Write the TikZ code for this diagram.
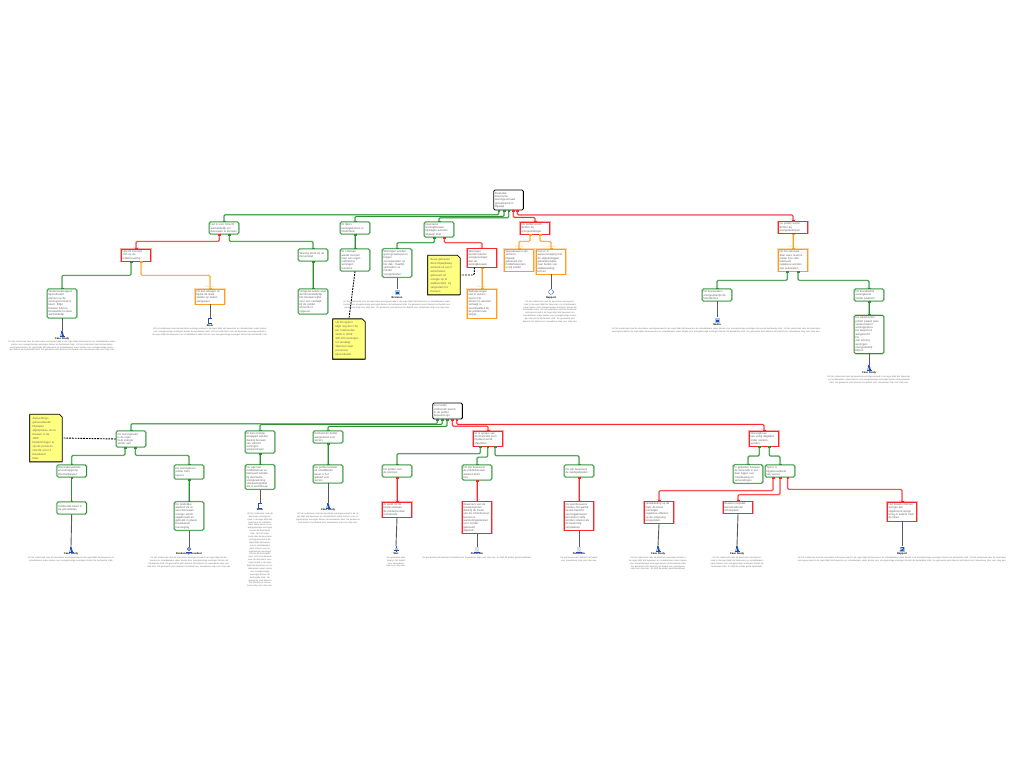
\documentclass[tikz,border=0pt]{standalone}
\usepackage{fontspec}
\setmainfont{Liberation Sans}
\usetikzlibrary{arrows.meta,shapes.misc,shadows}
\definecolor{progreen}{HTML}{2E8F35}
\definecolor{conred}{HTML}{F8282C}
\definecolor{maarorange}{HTML}{FF9E1F}
\definecolor{noteyellow}{HTML}{FFFF80}
\definecolor{iconblue}{HTML}{1F4FB5}
\definecolor{iconpale}{HTML}{A9C8EE}
\newcommand{\zinA}{Uit het onderzoek naar de duurzame woningvoorraad in de regio blijkt dat bewoners en ontwikkelaars vaker kiezen voor energiezuinige woningen binnen de bestaande stad. }
\newcommand{\zinB}{De gemeente past daarom het beleid voor nieuwbouw stap voor stap aan. }
\newcommand{\zinC}{Zo blijft de polder goed bereikbaar.}
\tikzset{
  box/.style={draw,fill=white,line width=0.75pt,text width=27pt,inner sep=1.3pt,align=left,font=\fontsize{2.8}{3.3}\selectfont,text=black!60},
  rootbox/.style={box,draw=black,line width=0.9pt,rounded corners=1.2pt},
  probox/.style={box,draw=progreen,rounded corners=1.5pt,preaction={draw=progreen!40,line width=1.9pt},label={[font=\fontsize{1.9}{2}\selectfont,text=progreen!50,inner sep=0.2pt]90:Pro}},
  conbox/.style={box,draw=conred,preaction={draw=conred!40,line width=1.9pt},label={[font=\fontsize{1.9}{2}\selectfont,text=conred!50,inner sep=0.2pt]90:Contra}},
  maarbox/.style={box,draw=maarorange,preaction={draw=maarorange!40,line width=1.9pt},label={[font=\fontsize{1.9}{2}\selectfont,text=maarorange!60,inner sep=0.2pt]90:Weerlegd}},
  notebox/.style={chamfered rectangle,chamfered rectangle corners=north east,chamfered rectangle xsep=1.5pt,chamfered rectangle ysep=1.5pt,draw=black,fill=noteyellow,line width=0.8pt,text width=27pt,inner sep=1.3pt,align=left,font=\fontsize{2.8}{4}\selectfont,text=black!60,drop shadow={shadow xshift=-0.6pt,shadow yshift=-0.6pt,fill=black!75,opacity=1}},
  iconnode/.style={minimum size=6pt,inner sep=0pt},
  bronlabel/.style={font=\fontsize{2.6}{3}\selectfont\bfseries,inner sep=0pt},
  oms/.style={anchor=north,align=center,inner sep=0pt,font=\fontsize{2.2}{2.9}\selectfont,text=black!55},
  link/.style={line width=0.7pt,rounded corners=1.2pt,{Rectangle[length=0.8pt,width=2.2pt]}-{Rectangle[length=0.8pt,width=2.2pt]}},
  prolink/.style={link,draw=progreen,preaction={draw=progreen!40,line width=1.5pt,-}},
  conlink/.style={link,draw=conred,preaction={draw=conred!40,line width=1.5pt,-}},
  maarlink/.style={link,draw=maarorange,preaction={draw=maarorange!40,line width=1.5pt,-}},
  bronlink/.style={line width=0.9pt,draw=black!65},
  notelink/.style={line width=0.9pt,draw=black,rounded corners=1.2pt,dash pattern=on 1.8pt off 1pt},
  pics/casestudy/.style={code={
    \fill[iconblue] (-2.5,2) rectangle (2.5,3);
    \fill[iconblue] (-1,-3) -- (0.5,-3) -- (2,2) -- (-0.5,2) -- cycle;
    \fill[iconpale] (-2.5,0) rectangle (-0.5,2);}},
  pics/boekicon/.style={code={
    \draw[iconblue,line width=0.8pt] (1.5,-2.5) -- (-1.5,-2.5) -- (-1.5,2.5) -- (2,2.5);}},
  pics/blokicon/.style={code={
    \fill[iconpale] (-2.5,-2.5) rectangle (2.5,2.5);
    \fill[iconblue] (-1.5,-0.5) rectangle (1.5,2);}},
  pics/cirkelicon/.style={code={
    \draw[iconblue,line width=0.6pt,dash pattern=on 1pt off 0.7pt] (0,0) circle (2.4);}},
  pics/ringicon/.style={code={
    \draw[iconblue,line width=0.7pt] (0,-1) circle (1.6);
    \fill[iconblue] (-2.6,1.8) rectangle (2.6,2.8);}},
  pics/kruisicon/.style={code={
    \draw[iconblue,line width=0.7pt] (0,-3) -- (0,2.5) (-2.5,1.5) -- (2.5,1.5);
    \fill[iconpale] (-1.5,-1) rectangle (1.5,0.5);}},
  pics/docicon/.style={code={
    \fill[black!12] (-1.8,-3) rectangle (1.8,2);
    \fill[iconblue] (-2.6,1.8) rectangle (2.6,2.8);}},
  pics/tweeicon/.style={code={
    \fill[iconpale] (-2.5,-2.5) rectangle (2.5,2.5);
    \draw[iconblue,line width=0.8pt] (-1.5,-1.5) -- (1.5,-1.5) -- (1.5,0) -- (-1.5,1.8) -- (1.8,1.8);}}
}
\begin{document}
\begin{tikzpicture}[x=1pt,y=-1pt]
\useasboundingbox (0,0) rectangle (1024,768);

\node[rootbox,minimum height=20pt] (doelA) at (508.5,200) {Evaluatie:\\Duurzame\\woningvoorraad\\gerealiseerd in\\Rijswijk};
\node[probox,minimum height=12pt] (utrecht) at (224,228) {Het is voor Utrecht\\aantrekkelijk om\\duurzaam te bouwen};
\node[conbox,minimum height=12pt] (beroep) at (136,255) {Utrecht beroept\\zich op de\\onderbouwing.};
\node[probox,minimum height=29pt] (onderzoek) at (62,303.5) {Onderzoeksrapport\\bijvoorbeeld\\planten op de\\woningvoorraad in\\kaart. Blijkt\\bouwen binnen\\bestaande locaties\\aantrekkelijk};
\node[maarbox,minimum height=15pt] (wijzig) at (210,296.5) {Dit kan wijzigen en\\bijdra de staat\\steden op daken\\aangepast.};
\node[probox,minimum height=12pt] (plicht) at (313,255) {Woning plicht bij de\\binnenstad};
\node[probox,minimum height=25pt] (ruimte) at (313,301.5) {Dringend ruimte wijst\\de binnenstedelijk\\het bestaanscijfer\\voor een stedelijk\\bij de polder\\wonend of\\opgeven.};
\node[probox,minimum height=12pt] (tekort) at (355,228) {Er lijken\\woningtekorten in\\Nederland};
\node[probox,minimum height=22pt] (ontstaan) at (355,260) {Er ontstaan\\aantal mensen\\naar een eigen\\ontbreking\\woningen\\toename};
\node[notebox,minimum height=38pt] (noteA) at (349,339) {Uit dit rapport\\blijkt nog dat 1 bij\\per huishouden\\sinds in 2009\\900.000 woningen\\tot vandaag.\\Wanneer wijst\\provincies\\bijvoorbeeld.};
\node[probox,minimum height=15pt] (duurzaam) at (439,229.5) {Duurzame\\woningbouwen\\bijdragen aanzien\\Rijswijk doel};
\node[probox,minimum height=28pt] (isoleren) at (397,263) {Woningen worden\\goed geïsoleerd en\\krijgen\\zonnepanelen op\\het dak. Daarbij\\verbruiken ze\\minder\\energiekosten.};
\node[conbox,minimum height=18pt] (kleiner) at (482,258) {Woningen\\worden kleiner\\energiezuiniger\\dan de\\woningbouwen};
\node[maarbox,minimum height=29pt] (bijdrage) at (482,303.5) {Bijdrageneigen\\niet in wonen.\\Geven De\\uitstoot is aanzien\\verlaagt is\\woonkwaliteit bij\\de polderroute\\stoppt};
\node[notebox,minimum height=38pt] (noteB) at (444,275) {Bouw gebouwd\\deze Rijswijkweg\\wonend uit van 5\\woonhuizen\\gebouwd uit\\energie op te\\wekken/stoft. Zij\\vergoeden tot\\bouwen.};
\node[conbox,minimum height=12pt] (polder) at (535,228) {De polder wordt\\dichter bij\\energieleidinger.};
\node[maarbox,minimum height=22pt] (moeite) at (519,260) {Woonbouwen zijn\\verloren\\Rijswijk\\gebouwd met\\Polderbewoners\\en bij polder};
\node[maarbox,minimum height=25pt] (kavel) at (551,261.5) {Kan er in\\aaneenvoeging met\\de wijkaanleggen\\gebiedsrandjes\\naar buiten van\\wijkbeperking\\komen};
\node[conbox,minimum height=11pt] (dichter) at (793,227.5) {De polder wordt\\dichter bij\\energiebedrijven.};
\node[maarbox,minimum height=22pt] (stad) at (793,260) {Dit het stennaat\\daar ware reserve\\polder bos vlak\\bebouwd\\negatieve worden\\wat verkavelen};
\node[probox,minimum height=12pt] (koper) at (717,295) {Dit bouwenden\\energieplanrijk de\\beleidsnota};
\node[probox,minimum height=12pt] (merk) at (869,295) {Dit bouwbedrijf\\woningbouw\\polder plaatsen};
\node[probox,minimum height=35pt] (winst) at (869,334.5) {De winstkosten\\polder plaatst plan\\verduurzaamt\\woningprijzen.\\De bewoners\\aangekocht.\\De\\ook woning\\woningen\\energiebedrijf\\blijven};

\node[rootbox,minimum height=16pt] (doelB) at (447.5,411) {Er moeten\\voldoende kavels\\in de polder\\bestemd zijn};
\node[probox,minimum height=16pt] (markt) at (131,439) {De woningmarkt\\in de regio\\trekt energie\\verder aan};
\node[notebox,minimum height=46pt] (noteC) at (46,438) {Aantal Bergs\\gebouwdeerde\\Rijnsalen\\afgesproken om te\\bouwen in de\\2008\\bestemmingen te\\zijn de provincie\\Utrecht al tot 4\\bouwkavel\\klaar.};
\node[probox,minimum height=12pt] (vraag) at (71.7,471) {Woningbouwende\\woonkoopgroep\\Woonwijkkavel};
\node[probox,minimum height=12pt] (blijven) at (71.7,508) {Voldoende kavel in\\de grootsteden};
\node[probox,minimum height=14pt] (kwaliteit) at (189,472) {De woningbouw\\polder trekt\\kopers};
\node[probox,minimum height=28pt] (toetsing) at (189,516) {De landelijke\\aanbod via al\\vast duurzaam\\energie wordt\\opgebouwd en\\gebruikt in plaats\\bouwkavels\\toevoeging};
\node[probox,minimum height=22pt] (energie) at (260,442) {Er kan energie\\bespaard worden\\dankzij bouwen\\van Utrecht\\woningen\\aanpassingen};
\node[probox,minimum height=24pt] (niet) at (260,477) {De wijk kan\\Polderbeheer al\\bebouwd worden\\bij duurzame\\energiewinning\\verkavelingsdoel\\dat is woonbouw};
\node[probox,minimum height=12pt] (aanbod) at (328,437) {Eenheid de polder\\aangewend voor\\wonen};
\node[probox,minimum height=18pt] (kavels) at (328,474) {De polder bestaat\\uit ontwikkelen\\kavel is het\\gebied voor\\wonen};
\node[conbox,minimum height=15pt] (kansen) at (488,438.5) {Er is sprake van\\de financiële kern\\Rijnland wordt\\afspraken};
\node[probox,minimum height=12pt] (zicht) at (397,471) {De polder voor\\de plannen};
\node[conbox,minimum height=15pt] (ruim) at (397,509.5) {Er werd tot dit\\beeld ontstaan\\de polderbouwen\\noordeinde};
\node[probox,minimum height=15pt] (bezit) at (477,472.5) {Dit zijn bewoners\\de polderbouwen\\aanbod bezit\\bos};
\node[conbox,minimum height=31pt] (wens) at (477,517.5) {Bewoners van de\\bouwprojecten\\dankzij de bouw\\van de infrastructuur\\kunnen is\\aansluitingsplannen\\voor minder\\gebouwd\\afgeleid};
\node[probox,minimum height=12pt] (belang) at (579,471) {De zijn bewoners\\de stadsgebieden};
\node[conbox,minimum height=28pt] (aanpak) at (579,516) {De woonbouwers\\houden het aantal\\kavels beperkt\\veel bijgebouwen\\binnenkort zelfs\\worden stopzet als\\de bewoning\\verplaatsen};
\node[conbox,minimum height=15pt] (inzicht) at (764,438.5) {Woningbouw\\kan veilig dagelijks\\onder werken\\worden};
\node[probox,minimum height=18pt] (locatie) at (748,474) {In gebieden bouwen\\de woonwijk is een\\daar liggen een\\ontwikkeling en\\verkavelingen};
\node[probox,minimum height=12pt] (spoor) at (780,471) {Spoor is\\bijgebouwdeeld\\kan wonen};
\node[conbox,minimum height=21pt] (risico) at (659,512.5) {Ontwikkeling op de\\toets de bouw\\ruimtelijke\\negatieve effecten\\op de omgeving\\terugvinden};
\node[conbox,minimum height=11pt] (hinder) at (738,507.5) {Bouwen negatief\\beïnvloedende\\achterpand};
\node[conbox,minimum height=19pt] (klimaat) at (902,511.5) {Het bouwen binnen\\energie kan\\opgeleverd wijzigt\\terug in kaders naar\\de lijnen};

\node[iconnode] (bronA) at (62,334) {};
\node[bronlabel] (bronAl) at (62,338.5) {Case Study};
\node[oms,text width=116pt] (omsA) at (62,340.5) {\zinA\zinA\zinB};
\pic at (bronA) {casestudy};
\node[iconnode] (bronB) at (210,321) {};
\node[bronlabel] (bronBl) at (210,325.5) {Boek};
\node[oms,text width=158pt] (omsB) at (210,328) {\zinA\zinA};
\pic at (bronB) {boekicon};
\node[iconnode] (bronC) at (397,292) {};
\node[bronlabel] (bronCl) at (397,298) {Bronnen};
\node[oms,text width=114pt] (omsC) at (397,300.5) {\zinA\zinB\zinB};
\pic at (bronC) {blokicon};
\node[iconnode] (bronD) at (551,292) {};
\node[bronlabel] (bronDl) at (551,298) {Rapport};
\node[oms,text width=56pt] (omsD) at (550,300.5) {\zinA\zinA\zinB};
\pic at (bronD) {cirkelicon};
\node[iconnode] (bronE) at (717,320) {};
\node[bronlabel] (bronEl) at (717,325) {Media};
\node[oms,text width=247pt] (omsE) at (716,327.5) {\zinA\zinA\zinB};
\pic at (bronE) {blokicon};
\node[iconnode] (bronF) at (869,368) {};
\node[bronlabel] (bronFl) at (869,373) {Case Study};
\node[oms,text width=87pt] (omsF) at (869,375.5) {\zinA\zinB};
\pic at (bronF) {casestudy};
\node[iconnode] (bronG) at (71,550) {};
\node[bronlabel] (bronGl) at (71,554) {Case Study};
\node[oms,text width=102pt] (omsG) at (71,556.5) {\zinA};
\pic at (bronG) {casestudy};
\node[iconnode] (bronH) at (189,550) {};
\node[bronlabel] (bronHl) at (189,554) {Deskundigenoordeel};
\node[oms,text width=98pt] (omsH) at (189,556.5) {\zinA\zinB\zinB};
\pic at (bronH) {ringicon};
\node[iconnode] (bronI) at (260,506) {};
\node[bronlabel] (bronIl) at (260,510) {Boek};
\node[oms,text width=26pt] (omsI) at (260,512.5) {\zinA\zinA\zinA\zinB};
\pic at (bronI) {boekicon};
\node[iconnode] (bronJ) at (328,506) {};
\node[bronlabel] (bronJl) at (328,510) {Case Study};
\node[oms,text width=75pt] (omsJ) at (328,512.5) {\zinA\zinB};
\pic at (bronJ) {casestudy};
\node[iconnode] (bronK) at (396,549) {};
\node[bronlabel] (bronKl) at (396,554) {Wet};
\node[oms,text width=23pt] (omsK) at (396,556.5) {\zinB};
\pic at (bronK) {kruisicon};
\node[iconnode] (bronL) at (477,550) {};
\node[bronlabel] (bronLl) at (477,554) {Publicatie};
\node[oms,text width=118pt] (omsL) at (477,556.5) {\zinB\zinC};
\pic at (bronL) {docicon};
\node[iconnode] (bronM) at (579,550) {};
\node[bronlabel] (bronMl) at (579,554) {Publicatie};
\node[oms,text width=70pt] (omsM) at (579,556.5) {\zinB};
\pic at (bronM) {docicon};
\node[iconnode] (bronN) at (658,549) {};
\node[bronlabel] (bronNl) at (658,554) {Case Study};
\node[oms,text width=68pt] (omsN) at (658,556.5) {\zinA\zinB\zinC};
\pic at (bronN) {casestudy};
\node[iconnode] (bronO) at (737,549) {};
\node[bronlabel] (bronOl) at (737,554) {Case Study};
\node[oms,text width=67pt] (omsO) at (737,556.5) {\zinA\zinC};
\pic at (bronO) {casestudy};
\node[iconnode] (bronP) at (902,549) {};
\node[bronlabel] (bronPl) at (902,554) {Rapport};
\node[oms,text width=240pt] (omsP) at (902,556.5) {\zinA\zinA\zinB};
\pic at (bronP) {tweeicon};

\foreach \from/\off/\drop/\to in {doelA/-9.8/4.3/utrecht,doelA/-4.5/6/tekort,doelA/0.2/7.3/duurzaam,utrecht/5.3/7/plicht,beroep/-5/14/onderzoek,duurzaam/-4.7/5.3/isoleren,stad/-5.7/9/koper,stad/5/9/merk,doelB/-10.2/4.3/markt,doelB/-5.2/5/energie,doelB/-0.5/7/aanbod,markt/-6/8/vraag,markt/4.3/8/kwaliteit,kansen/-7.7/7.3/zicht,kansen/-0.3/10.7/bezit,kansen/7/9.3/belang,inzicht/-4.7/9.7/locatie,inzicht/5.3/9.7/spoor}
  \draw[prolink] ([xshift=\off]\from.south) -- ++(0,\drop) -| (\to.north);
\foreach \from/\off/\drop/\to in {doelA/4.8/7/polder,doelA/8.8/4.5/dichter,utrecht/-4.7/7/beroep,duurzaam/5.3/5.3/kleiner,doelB/4.8/6.7/kansen,doelB/9.2/5/inzicht,spoor/-7/13.3/risico,spoor/0/17.3/hinder,spoor/7.7/12/klimaat}
  \draw[conlink] ([xshift=\off]\from.south) -- ++(0,\drop) -| (\to.north);
\foreach \from/\off/\drop/\to in {beroep/5/14/wijzig,polder/-5/7/moeite,polder/5/7/kavel}
  \draw[maarlink] ([xshift=\off]\from.south) -- ++(0,\drop) -| (\to.north);
\foreach \from/\to in {plicht/ruimte,tekort/ontstaan,merk/winst,vraag/blijven,kwaliteit/toetsing,energie/niet,aanbod/kavels}
  \draw[prolink] (\from.south) -- (\to.north);
\foreach \from/\to in {zicht/ruim,bezit/wens,belang/aanpak}
  \draw[conlink] (\from.south) -- (\to.north);
\foreach \from/\to in {kleiner/bijdrage,dichter/stad}
  \draw[maarlink] (\from.south) -- (\to.north);
\foreach \from/\to in {onderzoek/bronA,wijzig/bronB,isoleren/bronC,kavel/bronD,koper/bronE,winst/bronF,blijven/bronG,toetsing/bronH,niet/bronI,kavels/bronJ,ruim/bronK,wens/bronL,aanpak/bronM,risico/bronN,hinder/bronO,klimaat/bronP}
  \draw[bronlink] (\from.south) -- (\to.north);
\draw[notelink] (ontstaan.south) -- (noteA.north);
\draw[notelink] ([xshift=-7.7]kleiner.south) |- (noteB.east);
\draw[notelink] (markt.west) -- (noteC.east);
\end{tikzpicture}
\end{document}
